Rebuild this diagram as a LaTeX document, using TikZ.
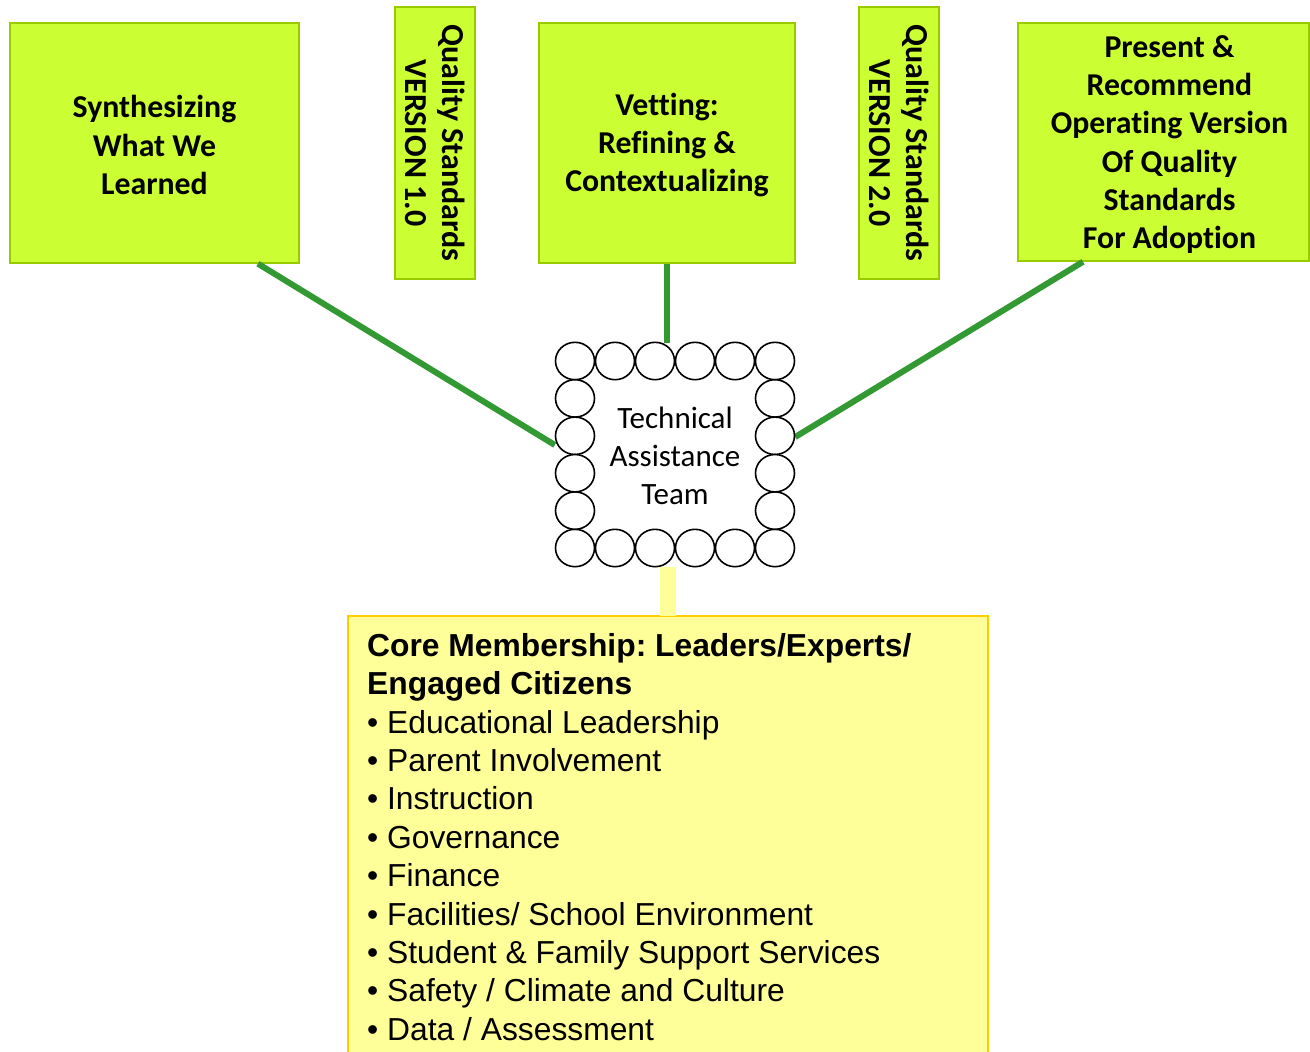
\documentclass[tikz,border=0pt]{standalone}
\usepackage{fontspec}
\newfontfamily\calfont[RawFeature={-liga;-dlig;-clig}]{Carlito}
\newfontfamily\arifont{Liberation Sans}
\definecolor{boxgreen}{HTML}{CCFF33}
\definecolor{boxedge}{HTML}{99CC00}
\definecolor{linkgreen}{HTML}{339933}
\definecolor{coreyellow}{HTML}{FFFF99}
\definecolor{coreedge}{HTML}{FFCC00}
\tikzset{
  stagebox/.style={draw=boxedge, fill=boxgreen, line width=1.5pt, inner sep=0pt},
  stagetext/.style={align=center, inner sep=0pt,
    font={\frenchspacing\fontsize{31.8pt}{38.3pt}\selectfont\calfont\bfseries}},
  versionbox/.style={stagebox, stagetext, rotate=-90, minimum width=272pt, minimum height=80pt},
  link/.style={draw=linkgreen, line width=6pt},
  ylink/.style={draw=coreyellow, line width=16pt},
  ring/.style={draw=black, fill=white, line width=1.6pt},
  corebox/.style={draw=coreedge, fill=coreyellow, line width=2pt},
}
\begin{document}
\begin{tikzpicture}[x=1pt,y=-1pt]
\useasboundingbox (0,0) rectangle (1310,1052);
\clip (0,0) rectangle (1310,1052);
\fill[white] (0,0) rectangle (1310,1052);

% top boxes
\node[stagebox, minimum width=289pt, minimum height=240pt,
      label={[stagetext, yshift=-2pt]center:Synthesizing\\What We\\Learned}] (synth) at (154.5,143) {};
\node[versionbox, font={\frenchspacing\fontsize{32pt}{37pt}\selectfont\calfont\bfseries}] (qs1) at (435,143) {Quality Standards\\VERSION 1.0};
\node[stagebox, minimum width=256pt, minimum height=240pt,
      label={[stagetext, yshift=-2pt]center:Vetting:\\Refining \&\\Contextualizing}] (vet) at (667,143) {};
\node[versionbox, font={\frenchspacing\fontsize{32pt}{37pt}\selectfont\calfont\bfseries}] (qs2) at (899,143) {Quality Standards\\VERSION 2.0};
\node[stagebox, minimum width=291pt, minimum height=238pt,
      label={[stagetext, yshift=-2.5pt, xshift=6pt]center:Present \&\\Recommend\\Operating Version\\Of Quality\\Standards\\For Adoption}] (present) at (1163.5,142) {};

% team node (frame of rings)
\node[minimum width=240pt, minimum height=224pt, inner sep=0pt] (team) at (675,455) {};

% core membership box
\node[corebox, anchor=north west, minimum width=640pt, minimum height=480pt] (core) at (347,615) {};

% connectors
\draw[link] ([xshift=103.5pt]synth.south) -- ([yshift=10pt]team.west);
\draw[link] (vet.south) -- (vet.south |- team.north);
\draw[link] ([xshift=-80.5pt]present.south) -- ([yshift=18pt]team.east);
\draw[ylink] ([yshift=-1pt]core.north) -- (core.north |- team.south);

% rings
\foreach \i in {0,...,5} {
  \draw[ring] (575+40*\i,361) ellipse [x radius=19.5pt, y radius=18.7pt];
  \draw[ring] (575+40*\i,548) ellipse [x radius=19.5pt, y radius=18.7pt];
}
\foreach \j in {1,...,4} {
  \draw[ring] (575,361+37.4*\j) ellipse [x radius=19.5pt, y radius=18.7pt];
  \draw[ring] (775,361+37.4*\j) ellipse [x radius=19.5pt, y radius=18.7pt];
}
\node[align=center, inner sep=0pt, font={\fontsize{31pt}{38pt}\selectfont\calfont}] (teamtext) at ([yshift=-1pt]team.center) {Technical\\Assistance\\Team};

% core text
\node[anchor=north west, align=left, inner sep=0pt,
      font={\frenchspacing\fontsize{31.8pt}{38.4pt}\selectfont\arifont}] (coretext) at (367,633)
{{\bfseries Core Membership: Leaders/Experts/}\\
{\bfseries Engaged Citizens}\\
• Educational Leadership\\
• Parent Involvement\\
• Instruction\\
• Governance\\
• Finance\\
• Facilities/ School Environment\\
• Student \& Family Support Services\\
• Safety / Climate and Culture\\
• Data / Assessment};
\end{tikzpicture}
\end{document}
